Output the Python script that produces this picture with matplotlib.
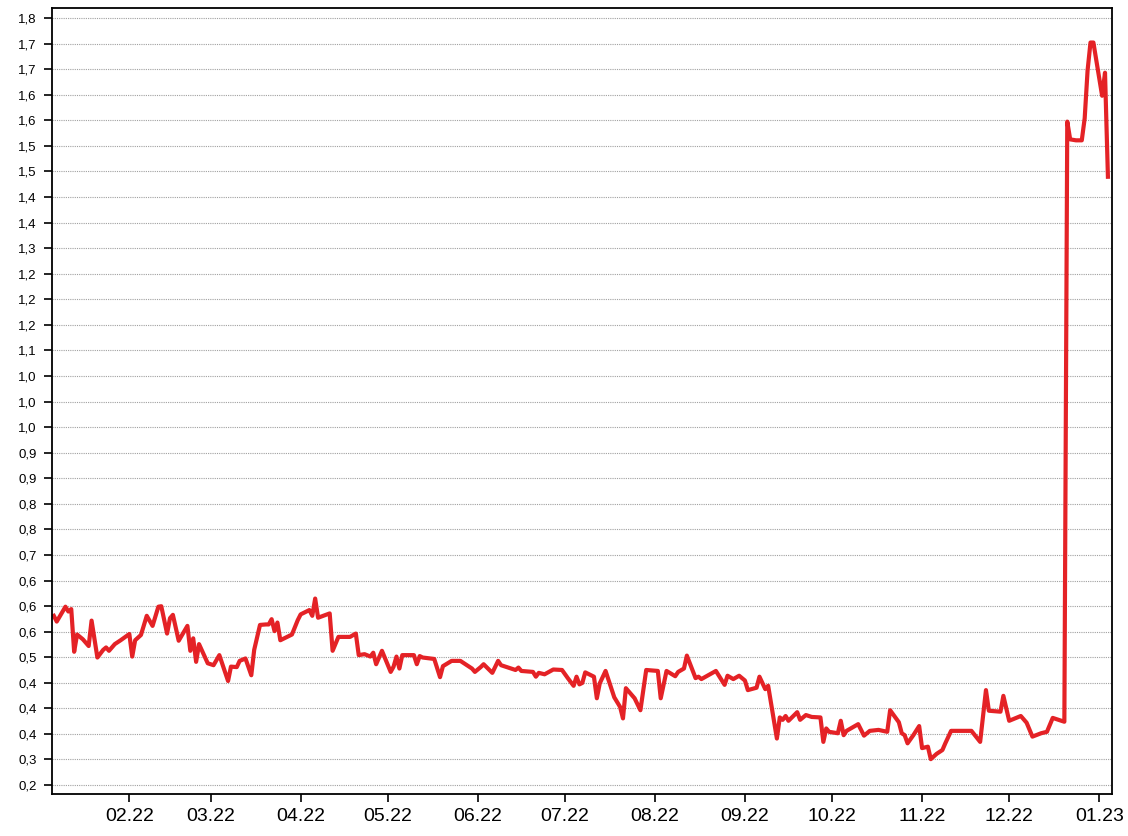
import numpy as np
import pandas as pd
import matplotlib
matplotlib.use("Agg")
import matplotlib.pyplot as plt
import matplotlib.dates as mdates

plt.rcParams['font.family'] = ['Liberation Sans', 'DejaVu Sans']

# === data ===
dates = [
    "2022-01-06", "2022-01-07", "2022-01-10", "2022-01-11", "2022-01-12", "2022-01-13", "2022-01-14",
    "2022-01-16", "2022-01-18", "2022-01-19", "2022-01-21", "2022-01-23", "2022-01-24", "2022-01-25",
    "2022-01-27", "2022-01-29",
    "2022-02-01", "2022-02-02", "2022-02-03", "2022-02-05", "2022-02-07", "2022-02-09", "2022-02-11",
    "2022-02-12", "2022-02-14", "2022-02-15", "2022-02-16", "2022-02-18", "2022-02-21", "2022-02-22",
    "2022-02-23", "2022-02-24", "2022-02-25", "2022-02-28",
    "2022-03-02", "2022-03-04", "2022-03-07", "2022-03-08", "2022-03-10", "2022-03-11", "2022-03-13",
    "2022-03-15", "2022-03-16", "2022-03-18", "2022-03-20", "2022-03-21", "2022-03-22", "2022-03-23",
    "2022-03-24", "2022-03-25", "2022-03-29", "2022-03-31",
    "2022-04-01", "2022-04-04", "2022-04-05", "2022-04-06", "2022-04-07", "2022-04-11", "2022-04-12",
    "2022-04-14", "2022-04-18", "2022-04-20", "2022-04-21", "2022-04-23", "2022-04-25", "2022-04-26",
    "2022-04-27", "2022-04-29",
    "2022-05-02", "2022-05-03", "2022-05-04", "2022-05-05", "2022-05-06", "2022-05-10", "2022-05-11",
    "2022-05-12", "2022-05-13", "2022-05-17", "2022-05-19", "2022-05-20", "2022-05-23", "2022-05-26",
    "2022-05-30", "2022-05-31",
    "2022-06-02", "2022-06-03", "2022-06-06", "2022-06-08", "2022-06-09", "2022-06-14", "2022-06-15",
    "2022-06-16", "2022-06-20", "2022-06-21", "2022-06-22", "2022-06-24", "2022-06-27", "2022-06-30",
    "2022-07-02", "2022-07-04", "2022-07-05", "2022-07-06", "2022-07-07", "2022-07-08", "2022-07-11",
    "2022-07-12", "2022-07-13", "2022-07-15", "2022-07-18", "2022-07-20", "2022-07-21", "2022-07-22",
    "2022-07-25", "2022-07-27", "2022-07-29",
    "2022-08-02", "2022-08-03", "2022-08-05", "2022-08-08", "2022-08-09", "2022-08-11", "2022-08-12",
    "2022-08-15", "2022-08-16", "2022-08-17", "2022-08-22", "2022-08-25", "2022-08-26", "2022-08-28",
    "2022-08-30",
    "2022-09-01", "2022-09-02", "2022-09-05", "2022-09-06", "2022-09-08", "2022-09-09", "2022-09-12",
    "2022-09-13", "2022-09-14", "2022-09-15", "2022-09-16", "2022-09-19", "2022-09-20", "2022-09-22",
    "2022-09-24", "2022-09-27", "2022-09-28", "2022-09-29", "2022-09-30",
    "2022-10-03", "2022-10-04", "2022-10-05", "2022-10-06", "2022-10-10", "2022-10-12", "2022-10-14",
    "2022-10-17", "2022-10-20", "2022-10-21", "2022-10-24", "2022-10-25", "2022-10-26", "2022-10-27",
    "2022-10-29", "2022-10-31",
    "2022-11-01", "2022-11-03", "2022-11-04", "2022-11-06", "2022-11-08", "2022-11-09", "2022-11-11",
    "2022-11-18", "2022-11-21", "2022-11-23", "2022-11-24", "2022-11-28", "2022-11-29",
    "2022-12-01", "2022-12-05", "2022-12-07", "2022-12-09", "2022-12-12", "2022-12-14", "2022-12-16",
    "2022-12-18", "2022-12-20", "2022-12-21", "2022-12-22", "2022-12-24", "2022-12-26", "2022-12-27",
    "2022-12-28", "2022-12-29", "2022-12-30",
    "2023-01-02", "2023-01-03", "2023-01-04",
]
values = [
    0.553, 0.541, 0.572, 0.562, 0.567, 0.478, 0.514,
    0.504, 0.490, 0.543, 0.466, 0.482, 0.487, 0.480,
    0.494, 0.502,
    0.515, 0.468, 0.502, 0.513, 0.553, 0.532, 0.572,
    0.573, 0.516, 0.548, 0.555, 0.501, 0.532, 0.480,
    0.506, 0.457, 0.494, 0.454,
    0.450, 0.471, 0.417, 0.447, 0.446, 0.459, 0.464,
    0.429, 0.482, 0.534, 0.535, 0.535, 0.546, 0.521,
    0.539, 0.502, 0.514, 0.544,
    0.556, 0.565, 0.553, 0.589, 0.549, 0.558, 0.480,
    0.509, 0.509, 0.516, 0.471, 0.473, 0.468, 0.476,
    0.452, 0.480,
    0.436, 0.447, 0.468, 0.443, 0.471, 0.471, 0.452,
    0.469, 0.466, 0.463, 0.425, 0.448, 0.459, 0.459,
    0.443, 0.436,
    0.446, 0.452, 0.434, 0.459, 0.450, 0.440, 0.445,
    0.438, 0.436, 0.426, 0.434, 0.431, 0.441, 0.440,
    0.423, 0.407, 0.426, 0.410, 0.413, 0.435, 0.426,
    0.381, 0.412, 0.438, 0.383, 0.363, 0.339, 0.402,
    0.381, 0.356, 0.440,
    0.438, 0.381, 0.438, 0.427, 0.436, 0.443, 0.470,
    0.423, 0.426, 0.421, 0.438, 0.409, 0.428, 0.421,
    0.428,
    0.418, 0.398, 0.403, 0.426, 0.400, 0.407, 0.297,
    0.341, 0.336, 0.344, 0.334, 0.352, 0.336, 0.346,
    0.342, 0.341, 0.290, 0.318, 0.311,
    0.308, 0.334, 0.304, 0.313, 0.327, 0.303, 0.313,
    0.315, 0.311, 0.356, 0.331, 0.308, 0.304, 0.287,
    0.304, 0.323,
    0.277, 0.280, 0.254, 0.265, 0.273, 0.287, 0.313,
    0.313, 0.290, 0.398, 0.355, 0.353, 0.386,
    0.334, 0.344, 0.330, 0.301, 0.308, 0.311, 0.340,
    0.336, 0.332, 1.584, 1.547, 1.545, 1.545, 1.591,
    1.691, 1.749, 1.749,
    1.638, 1.686, 1.469,
]

# y tick labels as printed on the chart (bottom to top)
ytick_labels = [
    "0,2", "0,3", "0,4", "0,4", "0,4", "0,5", "0,6", "0,6", "0,6", "0,7",
    "0,8", "0,8", "0,9", "0,9", "1,0", "1,0", "1,0", "1,1", "1,2", "1,2",
    "1,2", "1,3", "1,4", "1,4", "1,5", "1,5", "1,6", "1,6", "1,7", "1,7", "1,8",
]
month_ticks = pd.date_range("2022-02-01", "2023-01-01", freq="MS")

# === plot ===
fig = plt.figure(figsize=(11.28, 8.36), dpi=100)
ax = fig.add_axes([0.0461, 0.0502, 0.9397, 0.9402])

x = pd.to_datetime(dates)
ax.plot(x, values, color="#e42226", linewidth=3.0, solid_joinstyle="round")

yticks = np.linspace(0.2, 1.8, len(ytick_labels))
ax.set_yticks(yticks)
ax.set_yticklabels(ytick_labels, fontsize=9.5)
ax.set_ylim(0.1812, 1.821)

ax.set_xticks(month_ticks)
ax.xaxis.set_major_formatter(mdates.DateFormatter("%m.%y"))
ax.tick_params(axis="x", labelsize=14, length=6, width=1.2, pad=4, direction="out")
ax.tick_params(axis="y", length=6, width=1.2, pad=5, direction="out")
start = mdates.date2num(pd.Timestamp("2022-01-01"))
ax.set_xlim(start + 4.37, start + 369.4)

ax.grid(axis="y", color="#a0a0a0", linestyle=(0, (1, 1)), linewidth=0.8)
ax.set_axisbelow(True)
for sp in ax.spines.values():
    sp.set_linewidth(1.3)
    sp.set_color("black")

fig.savefig("out.png", dpi=100)
